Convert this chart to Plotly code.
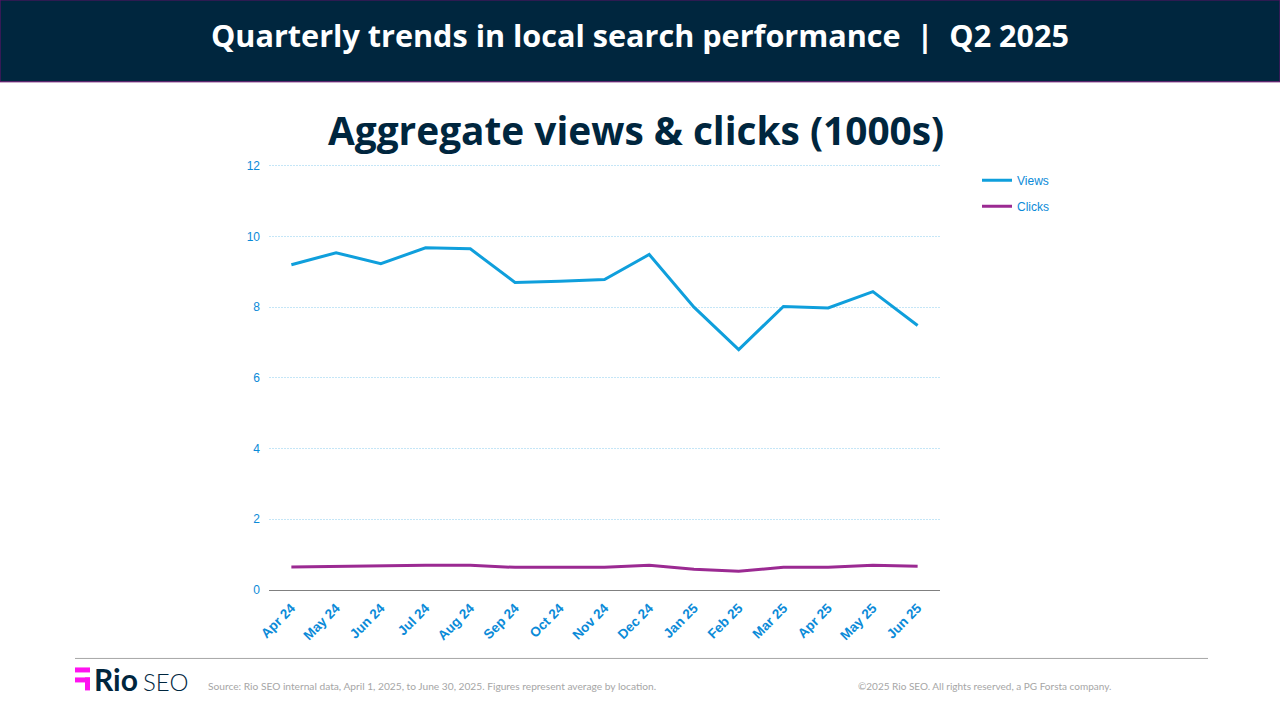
"""
Aggregate views and clicks by month, local search performance slide
"""

import plotly.graph_objects as go

months = ['Apr 24', 'May 24', 'Jun 24', 'Jul 24', 'Aug 24', 'Sep 24', 'Oct 24', 'Nov 24',
          'Dec 24', 'Jan 25', 'Feb 25', 'Mar 25', 'Apr 25', 'May 25', 'Jun 25']
views = [9.2, 9.54, 9.23, 9.68, 9.65, 8.7, 8.73, 8.78, 9.49, 8.0, 6.8, 8.02, 7.98, 8.44, 7.48]
clicks = [0.65, 0.67, 0.67, 0.7, 0.7, 0.64, 0.64, 0.64, 0.7, 0.59, 0.53, 0.64, 0.64, 0.7, 0.67]
y_ticks = [0, 2, 4, 6, 8, 10, 12]

NAVY = '#00263e'
BLUE = '#0a8ad8'
W, H = 1280, 720
# top of the range sits a hair above 12, otherwise plotly drops that gridline
LEFT, RIGHT, TOP, BOTTOM = 269, 940, 164.2, 590.5
Y_MAX = 12.05
HEAD_FONT = 'Open Sans'


# paper coords are relative to the plot area, so slide furniture goes outside 0..1
def px_x(x):
    return (x - LEFT) / (RIGHT - LEFT)


def px_y(y):
    return (BOTTOM - y) / (BOTTOM - TOP)


def add_rect(fig, x0, y0, x1, y1, color, line=None):
    fig.add_shape(type='rect', xref='paper', yref='paper',
                  x0=px_x(x0), x1=px_x(x1), y0=px_y(y0), y1=px_y(y1),
                  fillcolor=color, line=line or dict(width=0), layer='below')


def add_text(fig, x, y, text, size, color, family, anchor='left', weight=None):
    fig.add_annotation(xref='paper', yref='paper', x=px_x(x), y=px_y(y), text=text,
                       showarrow=False, xanchor=anchor, yanchor='middle',
                       font=dict(size=size, color=color, family=family, weight=weight))


fig = go.Figure()

fig.add_trace(go.Scatter(x=months, y=views, mode='lines', name='Views', legendgroup='views',
                         line=dict(color='#0f9fdc', width=3)))
fig.add_trace(go.Scatter(x=months, y=clicks, mode='lines', name='Clicks', legendgroup='clicks',
                         line=dict(color='#9b2a92', width=3)))

fig.update_layout(
    width=W,
    height=H,
    autosize=False,
    margin=dict(l=LEFT, r=W - RIGHT, t=TOP, b=H - BOTTOM, autoexpand=False),
    paper_bgcolor='white',
    plot_bgcolor='white',
    font=dict(family='Liberation Sans', color=BLUE, size=12),
    legend=dict(x=px_x(977), y=px_y(166), xanchor='left', yanchor='top',
                itemwidth=30, tracegroupgap=7, font=dict(size=12, color=BLUE),
                bgcolor='rgba(0,0,0,0)'),
    xaxis=dict(automargin=False, range=[-0.5, 14.5], showgrid=False, tickangle=-45,
               tickfont=dict(size=13.5, color=BLUE, family='Liberation Sans'),
               showline=True, linecolor='#808080', linewidth=1, ticks='',
               ticklabelstandoff=4, tickprefix='<b>', ticksuffix='</b>'),
    yaxis=dict(automargin=False, range=[0, Y_MAX], tickvals=y_ticks,
               gridcolor='#c5e6f7', gridwidth=1, griddash='2px,1px', zeroline=False,
               ticklabelstandoff=8, tickfont=dict(size=12, color=BLUE), ticks=''),
)

# header band
add_rect(fig, 0, 0, W, 82, NAVY, line=dict(color='#6a0f6e', width=1))
add_text(fig, 640, 35, '<b>Quarterly trends in local search performance  |  Q2 2025</b>',
         30.6, 'white', HEAD_FONT, anchor='center')
add_text(fig, 636, 130, '<b>Aggregate views &amp; clicks (1000s)</b>', 38.8, NAVY, HEAD_FONT, anchor='center')

# footer rule and logo
fig.add_shape(type='line', xref='paper', yref='paper', x0=px_x(75), x1=px_x(1208),
              y0=px_y(659), y1=px_y(659), line=dict(color='#a6a6a6', width=1))
add_rect(fig, 75, 668, 90, 673, '#ff12f0')
add_rect(fig, 75, 678, 90, 683, '#ff12f0')
add_rect(fig, 85, 678, 90, 691, '#ff12f0')
add_text(fig, 92, 680, '<b>Rio</b>', 30, NAVY, 'Lato', weight=900)
add_text(fig, 141, 682, 'SEO', 24, NAVY, 'Lato', weight=300)
add_text(fig, 206, 687, 'Source: Rio SEO internal data, April 1, 2025, to June 30, 2025. '
         'Figures represent average by location.', 10.2, '#a6a6a6', 'Lato')
add_text(fig, 856, 687, '©2025 Rio SEO. All rights reserved, a PG Forsta company.',
         10, '#a6a6a6', 'Lato')

# the page's default body margin would push the slide 8px off
fig.write_html("out.html", config=dict(displayModeBar=False),
               post_script="document.body.style.margin='0';")
